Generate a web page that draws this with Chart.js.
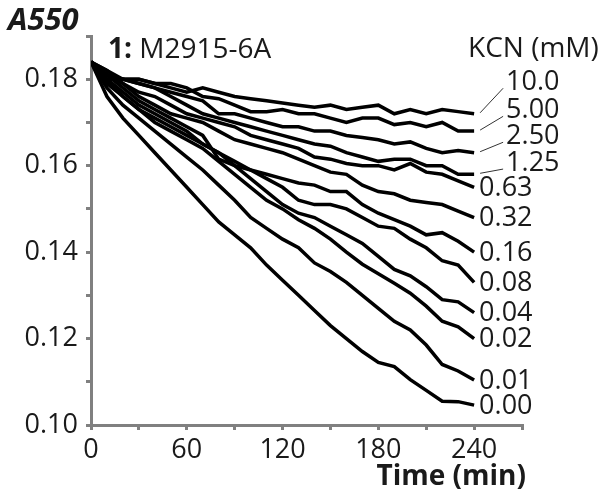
<!DOCTYPE html>
<html><head><meta charset="utf-8">
<script src="https://cdn.jsdelivr.net/npm/chart.js@4.4.1/dist/chart.umd.min.js"></script>
<style>html,body{margin:0;padding:0;background:#fff}#wrap{width:606px;height:492px}</style>
</head><body><div id="wrap"><canvas id="c" width="606" height="492"></canvas></div>
<script>
const times = [0,10,20,30,40,50,60,70,80,90,100,110,120,130,140,150,160,170,180,190,200,210,220,230,240];
const concLabels = ["10.0","5.00","2.50","1.25","0.63","0.32","0.16","0.08","0.04","0.02","0.01","0.00"];
const k10_0 = [.184,.180,.180,.180,.179,.178,.177,.178,.177,.176,.1755,.175,.1745,.174,.1735,.174,.173,.1735,.174,.172,.173,.172,.173,.1725,.172];
const k5_00 = [.184,.181,.180,.180,.179,.179,.178,.176,.1755,.174,.1725,.1725,.173,.172,.172,.171,.170,.171,.171,.1695,.170,.169,.170,.168,.168];
const k2_50 = [.184,.181,.180,.179,.178,.177,.176,.175,.172,.172,.171,.170,.169,.169,.168,.168,.167,.1665,.166,.165,.1655,.164,.163,.1635,.163];
const k1_25 = [.184,.182,.180,.179,.178,.176,.174,.172,.171,.170,.169,.168,.167,.166,.165,.1645,.163,.162,.161,.1615,.1615,.160,.160,.158,.158];
const k0_63 = [.184,.182,.179,.177,.176,.174,.172,.171,.170,.169,.167,.166,.165,.164,.162,.1615,.1605,.160,.160,.159,.1605,.1585,.158,.1565,.155];
const k0_32 = [.184,.181,.179,.176,.174,.172,.171,.170,.168,.166,.165,.164,.163,.1615,.160,.1585,.158,.1555,.154,.1535,.152,.1515,.151,.1495,.148];
const k0_16 = [.184,.181,.178,.175,.173,.171,.169,.167,.1615,.160,.159,.158,.157,.156,.1555,.154,.154,.151,.149,.1475,.146,.144,.1445,.1425,.140];
const k0_08 = [.184,.180,.177,.174,.172,.170,.168,.165,.163,.161,.159,.157,.155,.152,.151,.151,.150,.148,.146,.1455,.143,.141,.138,.137,.133];
const k0_04 = [.184,.180,.176,.173,.171,.169,.167,.165,.163,.160,.157,.154,.151,.149,.148,.146,.144,.142,.139,.136,.1345,.132,.129,.1285,.126];
const k0_02 = [.184,.179,.176,.173,.170,.168,.166,.164,.161,.158,.155,.152,.150,.1475,.1455,.143,.140,.1372,.135,.1328,.1305,.1275,.124,.1227,.120];
const k0_01 = [.184,.178,.174,.171,.168,.165,.162,.159,.1555,.152,.148,.1455,.143,.141,.1375,.1355,.133,.130,.127,.124,.122,.1185,.114,.1125,.1104];
const k0_00 = [.184,.176,.171,.167,.163,.159,.155,.151,.147,.144,.141,.137,.1335,.130,.1265,.123,.120,.117,.1145,.1135,.1105,.108,.1055,.1054,.1046];
const seriesValues = [k10_0,k5_00,k2_50,k1_25,k0_63,k0_32,k0_16,k0_08,k0_04,k0_02,k0_01,k0_00];
// label anchor (A550 units) for labels that sit above their line with a leader
const labelAnchor = [0.1793,0.1728,0.1668,0.1606,null,null,null,null,null,null,null,null];
const yTickLabels = ["0.10","0.12","0.14","0.16","0.18"];
const xTickLabels = ["0","60","120","180","240"];

const FONT = "'Open Sans', 'Noto Sans', sans-serif";
const TXT = '#1a1a1a';
const AX = '#808080';

const datasets = seriesValues.map((vals, i) => ({
  label: concLabels[i],
  data: vals.map((v, j) => ({x: times[j], y: v})),
  borderColor: '#000', borderWidth: 3.5, pointRadius: 0, tension: 0, fill: false,
  borderJoinStyle: 'miter'
}));

const extras = {
  id: 'extras',
  afterDraw(chart) {
    const ctx = chart.ctx, xs = chart.scales.x, ys = chart.scales.y;
    ctx.save();
    ctx.fillStyle = TXT;
    ctx.textBaseline = 'middle';
    ctx.textAlign = 'left';
    ctx.font = "27px " + FONT;
    seriesValues.forEach((vals, i) => {
      const xe = xs.getPixelForValue(times[times.length - 1]);
      const ye = ys.getPixelForValue(vals[vals.length - 1]);
      if (labelAnchor[i] != null) {
        const yl = ys.getPixelForValue(labelAnchor[i]);
        ctx.strokeStyle = '#333'; ctx.lineWidth = 1;
        ctx.beginPath(); ctx.moveTo(xe + 6, ye - 1); ctx.lineTo(xe + 29, yl + 6); ctx.stroke();
        ctx.fillText(concLabels[i], xe + 32, yl);
      } else {
        ctx.fillText(concLabels[i], xe + 5, ye + 1);
      }
    });
    ctx.textBaseline = 'alphabetic';
    ctx.font = "28px " + FONT;
    ctx.fillText("KCN (mM)", 468, 57);
    ctx.font = "bold 28px " + FONT;
    ctx.fillText("1:", 108, 58);
    const w1 = ctx.measureText("1: ").width;
    ctx.font = "28px " + FONT;
    ctx.fillText("M2915-6A", 108 + w1, 58);
    ctx.font = "italic bold 31px " + FONT;
    ctx.fillText("A550", 8, 30);
    ctx.font = "bold 28px " + FONT;
    ctx.textAlign = 'right';
    ctx.fillText("Time (min)", 526, 485);
    ctx.restore();
  }
};

new Chart(document.getElementById('c'), {
  type: 'line',
  data: { datasets },
  plugins: [extras],
  options: {
    responsive: false, animation: false, devicePixelRatio: 1,
    layout: { padding: { left: 0, right: 84, top: 36, bottom: 0 } },
    plugins: { legend: { display: false }, tooltip: { enabled: false } },
    scales: {
      x: {
        type: 'linear', min: 0, max: 270,
        afterFit(s) { s.height = 67; },
        border: { color: AX, width: 3 },
        grid: { drawOnChartArea: false, drawTicks: true, tickLength: 5, color: AX, lineWidth: 3 },
        ticks: {
          stepSize: 30, color: TXT, padding: 4, maxRotation: 0, autoSkip: false,
          font: { family: FONT, size: 27 },
          callback: (v) => { const s = String(v); return xTickLabels.includes(s) ? s : ''; }
        }
      },
      y: {
        min: 0.10, max: 0.19,
        afterFit(s) { s.width = 91; },
        border: { color: AX, width: 3 },
        grid: { drawOnChartArea: false, drawTicks: true, tickLength: 5, color: AX, lineWidth: 3 },
        ticks: {
          stepSize: 0.01, color: TXT, padding: 8, autoSkip: false,
          font: { family: FONT, size: 27 },
          callback: (v) => { const s = v.toFixed(2); return yTickLabels.includes(s) ? s : ''; }
        }
      }
    }
  }
});
</script></body></html>
